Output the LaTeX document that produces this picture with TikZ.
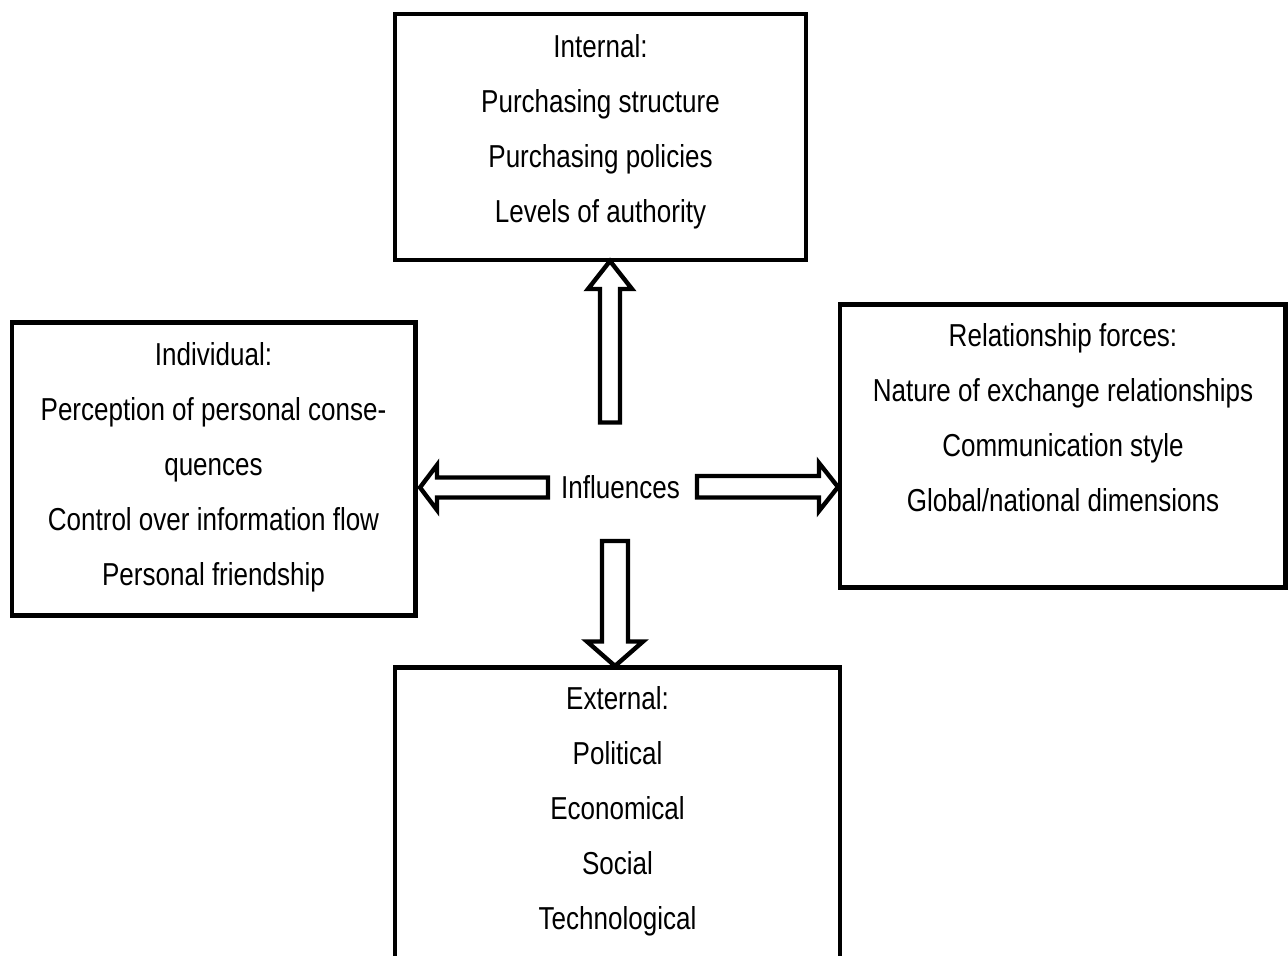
\documentclass[tikz,border=0pt]{standalone}
\usepackage{fontspec}
\setmainfont[FakeStretch=0.82]{Liberation Sans}
\begin{document}
\begin{tikzpicture}[x=0.75pt,y=-0.75pt,
  box/.style={draw, line width=3.4pt, rectangle, inner sep=0pt},
  txt/.style={align=center, anchor=north, inner sep=0pt, font=\fontsize{23.8}{41.25}\selectfont},
  blk/.style={draw, line width=3.3pt, fill=white, line join=miter}]
\useasboundingbox (0,0) rectangle (1288,956);
% boxes
\node[box, minimum width=308.25pt, minimum height=184.5pt] (int) at (600.5,137) {};
\node[box, minimum width=302.6pt, minimum height=219.75pt] (ind) at (213.75,469) {};
\node[box, minimum width=334.1pt, minimum height=212.25pt] (rel) at (1062.75,446) {};
\node[box, minimum width=333.75pt, minimum height=241.9pt] (ext) at (617.5,828.75) {};
% texts
\node[txt] (intT) at (600.5,33) {\rule{0pt}{18pt}Internal:\\Purchasing structure\\Purchasing policies\\Levels of authority};
\node[txt] (indT) at (213.5,341) {\rule{0pt}{18pt}Individual:\\Perception of personal conse-\\quences\\Control over information flow\\Personal friendship};
\node[txt] (relT) at (1063,322) {\rule{0pt}{18pt}Relationship forces:\\Nature of exchange relationships\\Communication style\\Global/national dimensions};
\node[txt] (extT) at (617.5,685) {\rule{0pt}{18pt}External:\\Political\\Economical\\Social\\Technological};
\node[txt] (inf) at (620.5,474) {\rule{0pt}{18pt}Influences};
% block arrows
\draw[blk] (600,422.5) -- (600,289) -- (588,289) -- (610,261) -- (632,289) -- (620,289) -- (620,422.5) -- cycle;
\draw[blk] (548,477.5) -- (437,477.5) -- (437,465) -- (420,487.5) -- (437,510) -- (437,497.5) -- (548,497.5) -- cycle;
\draw[blk] (697,476) -- (819,476) -- (819,463) -- (838,487) -- (819,511) -- (819,497.5) -- (697,497.5) -- cycle;
\draw[blk] (602,541) -- (628,541) -- (628,641.5) -- (643,641.5) -- (615,666) -- (587,641.5) -- (602,641.5) -- cycle;
\end{tikzpicture}
\end{document}
